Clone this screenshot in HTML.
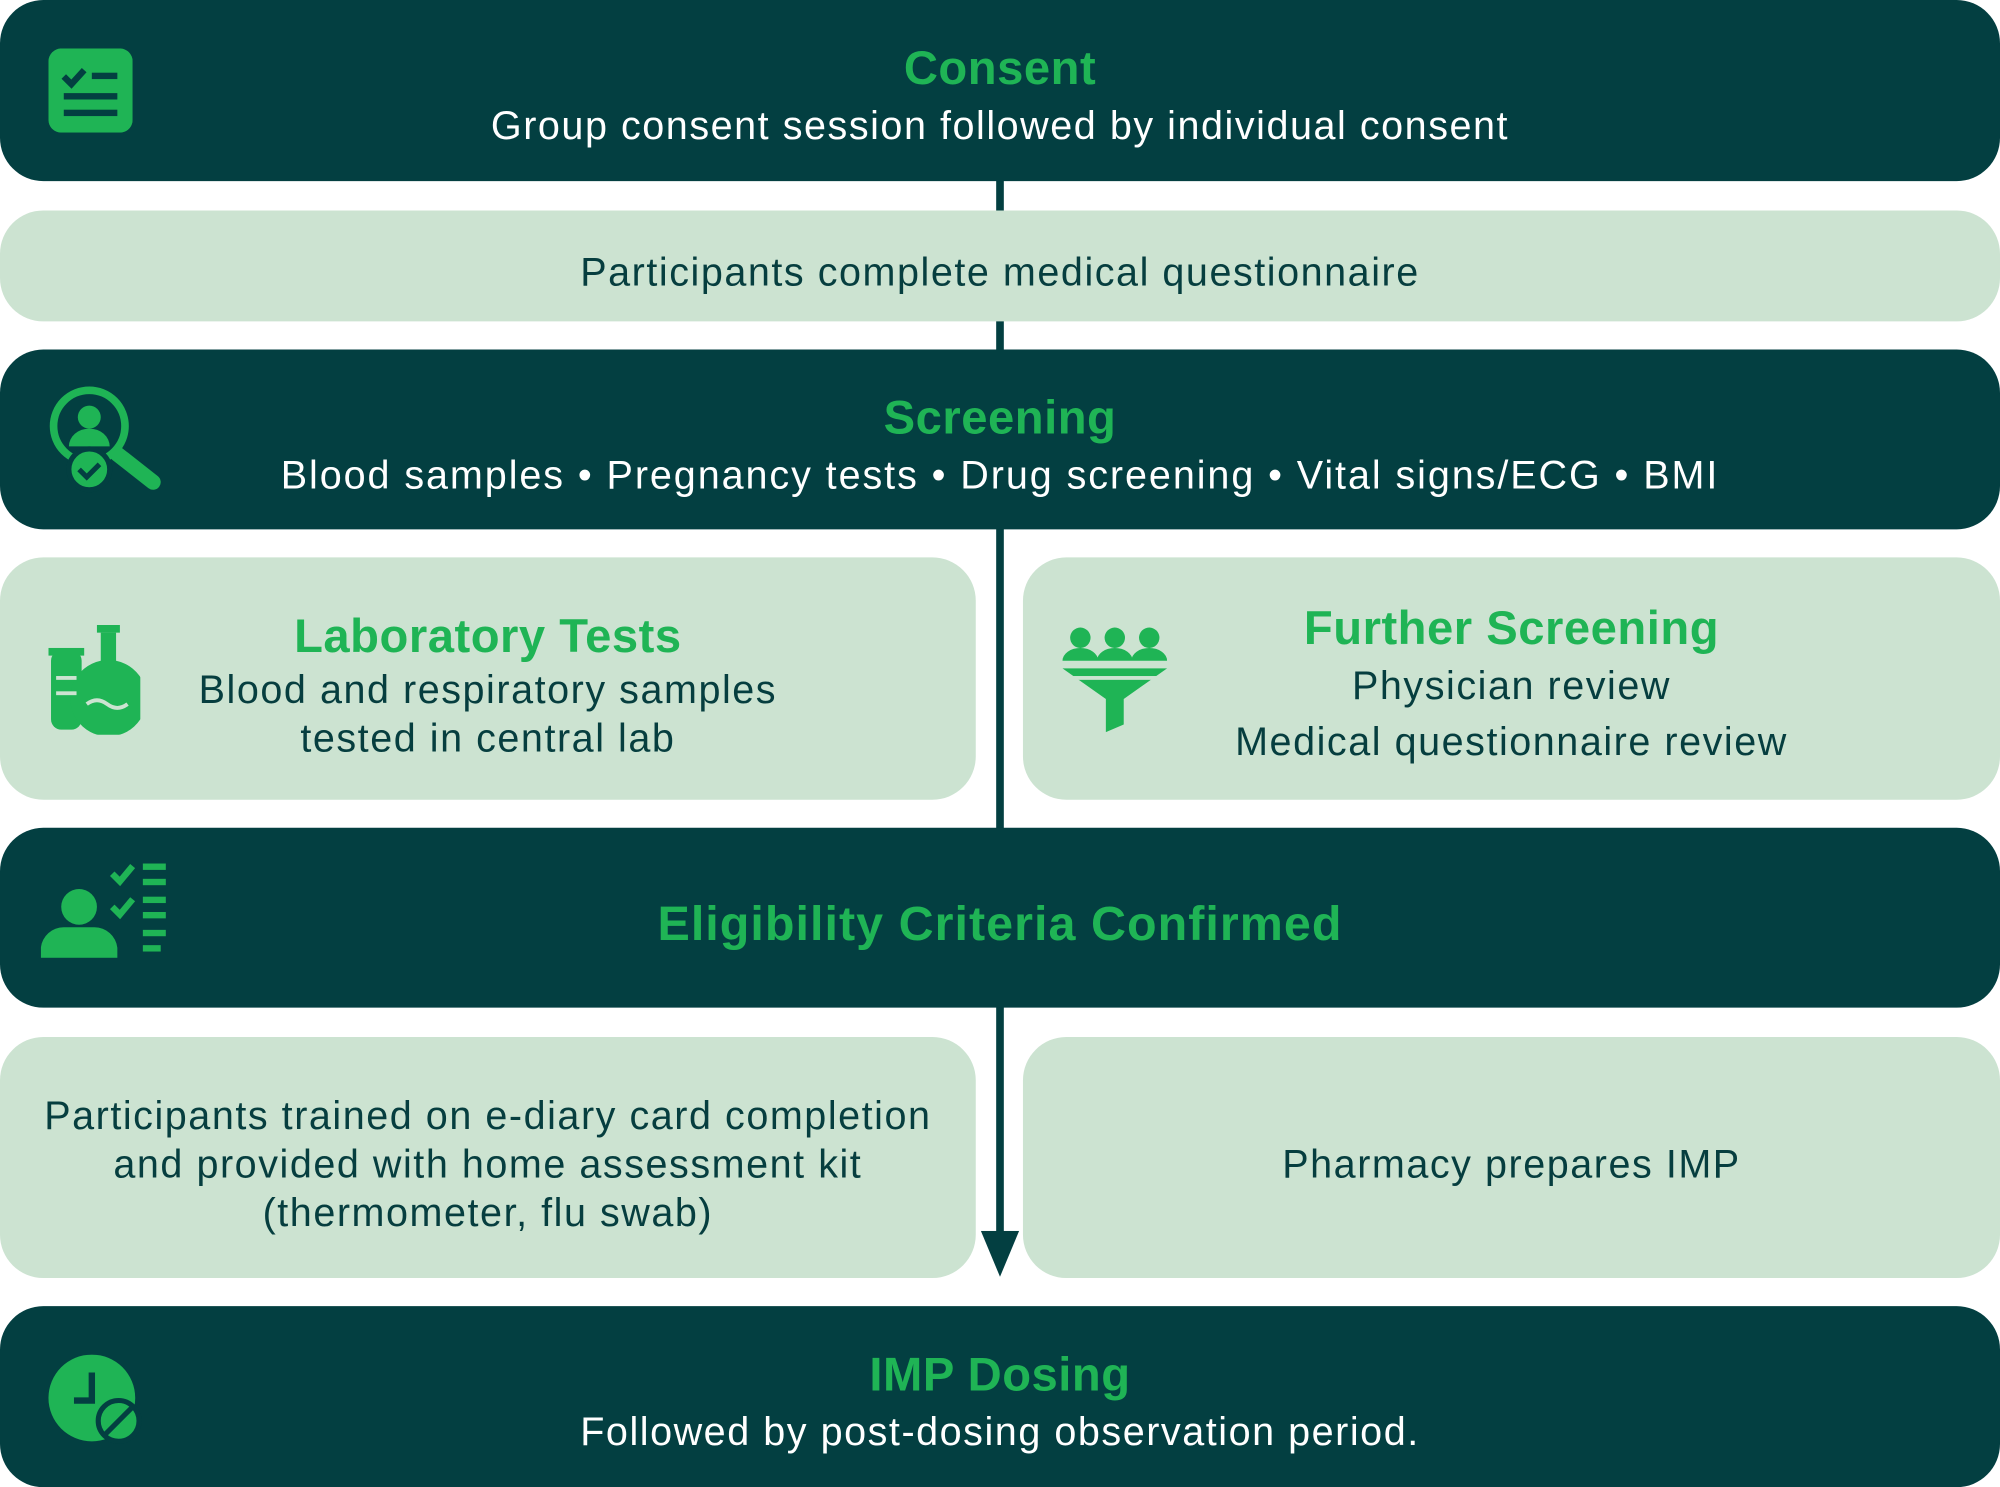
<!DOCTYPE html>
<html><head><meta charset="utf-8"><style>
*{margin:0;padding:0;box-sizing:border-box}
html,body{width:2000px;height:1487px;overflow:hidden;background:#fff}
#w{position:absolute;left:0;top:0;width:1568px;height:1166px;transform:scale(1.27551);transform-origin:0 0;font-family:"Liberation Sans",sans-serif}
.b{position:absolute;border-radius:34px;display:flex;flex-direction:column;align-items:center;justify-content:center;text-align:center;padding-top:10px}
.d{background:#033f41;color:#fff}
.l{background:#cce3d1;color:#063e3f}
.t{color:#1fb455;font-weight:bold;font-size:37px;line-height:46px;letter-spacing:0.4px}
.s{font-size:31px;line-height:44px;letter-spacing:1.2px}
.line{position:absolute;left:781px;width:6px;background:#033f41}
svg{position:absolute}
</style></head><body><div id="w">
<div class="line" style="top:130px;height:845px"></div>
<svg style="left:769px;top:965px" width="30" height="38"><polygon points="0,0 30,0 15,36" fill="#033f41"/></svg>

<div class="b d" style="left:0;top:0;width:1568px;height:142px"><div class="t">Consent</div><div class="s">Group consent session followed by individual consent</div></div>
<svg style="left:38px;top:38px" width="66" height="66"><rect width="66" height="66" rx="10" fill="#1fb455"/><path d="M12 22l6 6 10-11" stroke="#033f41" stroke-width="5" fill="none"/><rect x="34" y="19" width="20" height="5" fill="#033f41"/><rect x="12" y="35" width="42" height="5" fill="#033f41"/><rect x="12" y="48" width="42" height="5" fill="#033f41"/></svg>

<div class="b l" style="left:0;top:165px;width:1568px;height:87px"><div class="s" style="color:#063e3f">Participants complete medical questionnaire</div></div>

<div class="b d" style="left:0;top:274px;width:1568px;height:141px"><div class="t">Screening</div><div class="s" style="letter-spacing:1.5px">Blood samples • Pregnancy tests • Drug screening • Vital signs/ECG • BMI</div></div>
<svg style="left:36px;top:300px" width="92" height="88"><circle cx="34" cy="34" r="28" stroke="#1fb455" stroke-width="6" fill="none"/><circle cx="34" cy="27" r="9" fill="#1fb455"/><path d="M18 50a16 14 0 0 1 32 0z" fill="#1fb455"/><line x1="56" y1="56" x2="84" y2="78" stroke="#1fb455" stroke-width="12" stroke-linecap="round"/><circle cx="34" cy="68" r="16" fill="#1fb455" stroke="#033f41" stroke-width="4"/><path d="M26 68l6 6 10-10" stroke="#033f41" stroke-width="4" fill="none"/></svg>

<div class="b l" style="left:0;top:437px;width:765px;height:190px"><div class="t">Laboratory Tests</div><div class="s" style="line-height:38px">Blood and respiratory samples<br>tested in central lab</div></div>
<svg style="left:38px;top:490px" width="72" height="86"><rect x="2" y="20" width="24" height="62" rx="8" fill="#1fb455"/><rect x="0" y="18" width="28" height="6" fill="#1fb455"/><rect x="38" y="0" width="18" height="6" fill="#1fb455"/><path d="M41 6h12v22a30 30 0 1 1 -12 0z" fill="#1fb455"/><path d="M30 62q8-6 16 0t16 0" stroke="#cce3d1" stroke-width="3" fill="none"/><rect x="6" y="40" width="16" height="3" fill="#cce3d1"/><rect x="6" y="52" width="16" height="3" fill="#cce3d1"/></svg>

<div class="b l" style="left:802px;top:437px;width:766px;height:190px"><div class="t">Further Screening</div><div class="s" style="line-height:44px">Physician review<br>Medical questionnaire review</div></div>
<svg style="left:833px;top:490px" width="82" height="84"><circle cx="14" cy="10" r="8" fill="#1fb455"/><circle cx="41" cy="10" r="8" fill="#1fb455"/><circle cx="68" cy="10" r="8" fill="#1fb455"/><path d="M0 28a14 10 0 0 1 28 0zM27 28a14 10 0 0 1 28 0zM54 28a14 10 0 0 1 28 0z" fill="#1fb455"/><polygon points="0,34 82,34 48,58 48,78 34,84 34,58" fill="#1fb455"/><rect x="0" y="40" width="82" height="3" fill="#cce3d1"/></svg>

<div class="b d" style="left:0;top:649px;width:1568px;height:141px"><div class="t" style="font-size:38px;letter-spacing:0.8px">Eligibility Criteria Confirmed</div></div>
<svg style="left:32px;top:675px" width="100" height="76"><circle cx="30" cy="36" r="14" fill="#1fb455"/><path d="M0 76v-8a18 18 0 0 1 18-16h24a18 18 0 0 1 18 16v8z" fill="#1fb455"/><path d="M56 10l6 6 10-12M56 36l6 6 10-12" stroke="#1fb455" stroke-width="5" fill="none"/><rect x="80" y="2" width="18" height="5" fill="#1fb455"/><rect x="80" y="14" width="18" height="5" fill="#1fb455"/><rect x="80" y="28" width="18" height="5" fill="#1fb455"/><rect x="80" y="40" width="18" height="5" fill="#1fb455"/><rect x="80" y="54" width="18" height="5" fill="#1fb455"/><rect x="80" y="66" width="14" height="5" fill="#1fb455"/></svg>

<div class="b l" style="left:0;top:813px;width:765px;height:189px"><div class="s" style="line-height:38px">Participants trained on e-diary card completion<br>and provided with home assessment kit<br>(thermometer, flu swab)</div></div>
<div class="b l" style="left:802px;top:813px;width:766px;height:189px"><div class="s">Pharmacy prepares IMP</div></div>

<div class="b d" style="left:0;top:1024px;width:1568px;height:142px"><div class="t">IMP Dosing</div><div class="s">Followed by post-dosing observation period.</div></div>
<svg style="left:37px;top:1062px" width="74" height="70"><circle cx="35" cy="34" r="34" fill="#1fb455"/><path d="M35 14v22h-14" stroke="#033f41" stroke-width="5" fill="none"/><circle cx="56" cy="52" r="16" fill="#1fb455" stroke="#033f41" stroke-width="4"/><line x1="46" y1="62" x2="66" y2="42" stroke="#033f41" stroke-width="4"/></svg>
</div></body></html>
